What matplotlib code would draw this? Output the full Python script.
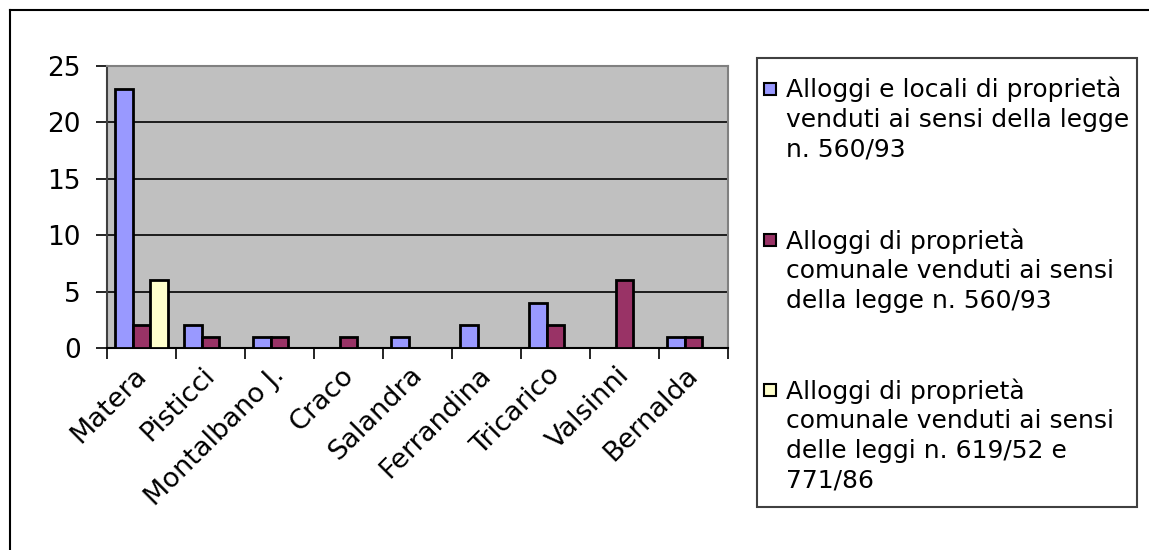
import numpy as np
import matplotlib
matplotlib.use("Agg")
import matplotlib.pyplot as plt
from matplotlib.patches import Rectangle
from matplotlib.lines import Line2D

plt.rcParams['font.family'] = ['DejaVu Sans']

# dati
comuni = ["Matera", "Pisticci", "Montalbano J.", "Craco", "Salandra",
          "Ferrandina", "Tricarico", "Valsinni", "Bernalda"]
ente_560 = [23, 2, 1, 0, 1, 2, 4, 0, 1]
comunale_560 = [2, 1, 1, 1, 0, 0, 2, 6, 1]
comunale_619 = [6, 0, 0, 0, 0, 0, 0, 0, 0]

etichette = [
    "Alloggi e locali di proprietà\nvenduti ai sensi della legge\nn. 560/93",
    "Alloggi di proprietà\ncomunale venduti ai sensi\ndella legge n. 560/93",
    "Alloggi di proprietà\ncomunale venduti ai sensi\ndelle leggi n. 619/52 e\n771/86",
]
colori = ["#9999FF", "#993366", "#FFFFCC"]

W, H = 1149, 550
fig = plt.figure(figsize=(W / 100, H / 100), dpi=100)


def fx(px):
    return px / W


def fy(py):
    return 1 - py / H


# cornice esterna
fig.add_artist(Line2D([fx(10), fx(10)], [fy(10), 0], transform=fig.transFigure,
                      color="black", lw=1.5))
fig.add_artist(Line2D([fx(10), 1], [fy(10), fy(10)], transform=fig.transFigure,
                      color="black", lw=1.5))

ax = fig.add_axes([fx(107), fy(348), fx(728) - fx(107), fy(66) - fy(348)])
ax.set_facecolor("#C0C0C0")

x = np.arange(len(comuni)) + 0.5
w = 0.256
serie = [ente_560, comunale_560, comunale_619]
for i, (vals, col) in enumerate(zip(serie, colori)):
    ax.bar(x + (i - 1) * w, vals, width=w, color=col, edgecolor="black",
           linewidth=2, zorder=3)

ax.set_xlim(0, len(comuni))
ax.set_ylim(0, 25)
ax.set_yticks([0, 5, 10, 15, 20, 25])
ax.yaxis.grid(True, color="black", linewidth=1.2, zorder=1)
ax.set_axisbelow(True)

ax.set_xticks(np.arange(len(comuni) + 1))
ax.set_xticklabels([])
ax.tick_params(axis="x", direction="out", length=8, width=1.2, color="black")
ax.tick_params(axis="y", direction="out", length=8, width=1.2, color="black",
               labelsize=19, pad=11)

for i, nome in enumerate(comuni):
    ax.text(x[i] - 0.12, -1.25, nome, rotation=45, ha="right", va="top",
            rotation_mode="anchor", fontsize=19.5)

ax.spines["bottom"].set_color("black")
ax.spines["bottom"].set_linewidth(1.5)
ax.spines["left"].set_color("#404040")
ax.spines["left"].set_linewidth(1.5)
ax.spines["top"].set_color("#808080")
ax.spines["right"].set_color("#808080")
ax.spines["top"].set_linewidth(1.5)
ax.spines["right"].set_linewidth(1.5)

# legenda disegnata a mano (stile Excel)
fig.add_artist(Rectangle((fx(757), fy(507)), fx(1137) - fx(757), fy(58) - fy(507),
                         transform=fig.transFigure, facecolor="white",
                         edgecolor="#404040", lw=1.5))
prima_riga = [89, 240, 390]
for col, testo, yc in zip(colori, etichette, prima_riga):
    fig.add_artist(Rectangle((fx(764), fy(yc + 6)), fx(12), 12 / H,
                             transform=fig.transFigure, facecolor=col,
                             edgecolor="black", lw=1.5))
    fig.text(fx(786), fy(yc - 12), testo, ha="left", va="top", fontsize=18,
             linespacing=1.29)

fig.savefig("out.png", dpi=100)
